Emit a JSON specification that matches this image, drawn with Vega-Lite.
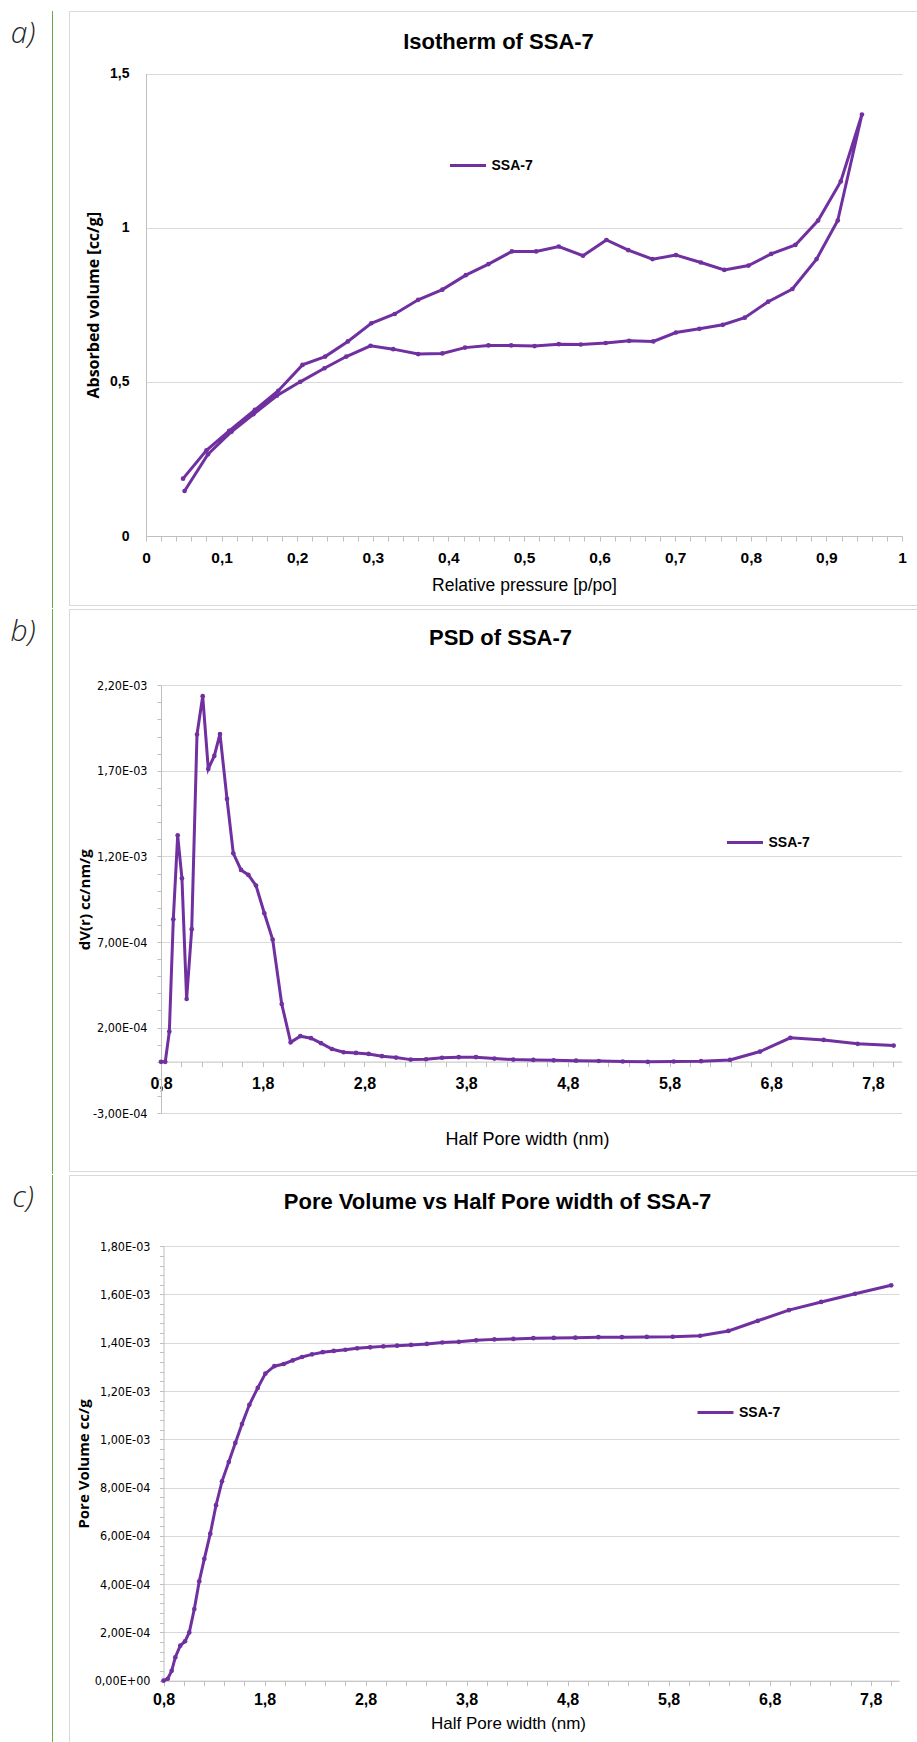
{
  "$schema": "https://vega.github.io/schema/vega-lite/v6.json",
  "padding": {"left": 0, "top": 10, "right": 0, "bottom": 0},
  "background": "white",
  "spacing": 0,
  "resolve": {"scale": {"color": "independent"}, "legend": {"color": "independent"}},
  "config": {
    "view": {"stroke": null},
    "font": "Liberation Sans",
    "axis": {"domainColor": "#bfbfbf", "tickColor": "#bfbfbf", "gridColor": "#d9d9d9", "labelColor": "#000000", "titleColor": "#000000", "domainWidth": 1, "gridWidth": 1, "tickWidth": 1, "labelOverlap": false, "labelFlush": false},
    "legend": {"orient": "none", "title": null, "symbolType": "stroke", "symbolSize": 1296, "symbolStrokeWidth": 3, "labelFont": "Liberation Sans", "labelFontSize": 14, "labelFontWeight": "bold", "labelColor": "#000000", "padding": 0, "labelOffset": 4}
  },
  "datasets": {
    "iso": [
      {"i": 1, "p": 0.051, "v": 0.146}, {"i": 2, "p": 0.082, "v": 0.265}, {"i": 3, "p": 0.113, "v": 0.338}, {"i": 4, "p": 0.142, "v": 0.395},
      {"i": 5, "p": 0.173, "v": 0.455}, {"i": 6, "p": 0.204, "v": 0.5}, {"i": 7, "p": 0.236, "v": 0.544}, {"i": 8, "p": 0.265, "v": 0.582},
      {"i": 9, "p": 0.297, "v": 0.617}, {"i": 10, "p": 0.327, "v": 0.606}, {"i": 11, "p": 0.36, "v": 0.59}, {"i": 12, "p": 0.392, "v": 0.592},
      {"i": 13, "p": 0.422, "v": 0.611}, {"i": 14, "p": 0.453, "v": 0.618}, {"i": 15, "p": 0.483, "v": 0.618}, {"i": 16, "p": 0.514, "v": 0.616},
      {"i": 17, "p": 0.546, "v": 0.622}, {"i": 18, "p": 0.575, "v": 0.621}, {"i": 19, "p": 0.608, "v": 0.626}, {"i": 20, "p": 0.639, "v": 0.633},
      {"i": 21, "p": 0.671, "v": 0.631}, {"i": 22, "p": 0.701, "v": 0.66}, {"i": 23, "p": 0.732, "v": 0.672}, {"i": 24, "p": 0.763, "v": 0.685},
      {"i": 25, "p": 0.792, "v": 0.708}, {"i": 26, "p": 0.823, "v": 0.76}, {"i": 27, "p": 0.855, "v": 0.801}, {"i": 28, "p": 0.887, "v": 0.898},
      {"i": 29, "p": 0.915, "v": 1.023}, {"i": 30, "p": 0.947, "v": 1.367},
      {"i": 31, "p": 0.919, "v": 1.15}, {"i": 32, "p": 0.889, "v": 1.023}, {"i": 33, "p": 0.859, "v": 0.944}, {"i": 34, "p": 0.827, "v": 0.915},
      {"i": 35, "p": 0.797, "v": 0.877}, {"i": 36, "p": 0.765, "v": 0.863}, {"i": 37, "p": 0.734, "v": 0.887}, {"i": 38, "p": 0.701, "v": 0.911},
      {"i": 39, "p": 0.67, "v": 0.898}, {"i": 40, "p": 0.638, "v": 0.927}, {"i": 41, "p": 0.609, "v": 0.96}, {"i": 42, "p": 0.578, "v": 0.909},
      {"i": 43, "p": 0.546, "v": 0.939}, {"i": 44, "p": 0.516, "v": 0.923}, {"i": 45, "p": 0.484, "v": 0.923}, {"i": 46, "p": 0.453, "v": 0.882},
      {"i": 47, "p": 0.423, "v": 0.846}, {"i": 48, "p": 0.392, "v": 0.799}, {"i": 49, "p": 0.36, "v": 0.766}, {"i": 50, "p": 0.329, "v": 0.72},
      {"i": 51, "p": 0.298, "v": 0.69}, {"i": 52, "p": 0.267, "v": 0.631}, {"i": 53, "p": 0.237, "v": 0.582}, {"i": 54, "p": 0.207, "v": 0.555},
      {"i": 55, "p": 0.175, "v": 0.471}, {"i": 56, "p": 0.144, "v": 0.409}, {"i": 57, "p": 0.11, "v": 0.341}, {"i": 58, "p": 0.08, "v": 0.278},
      {"i": 59, "p": 0.049, "v": 0.186}
    ],
    "psd": [
      {"r": 0.8, "d": 0}, {"r": 0.842, "d": 0}, {"r": 0.882, "d": 0.000177}, {"r": 0.921, "d": 0.000833},
      {"r": 0.964, "d": 0.001323}, {"r": 1.006, "d": 0.001072}, {"r": 1.052, "d": 0.000367}, {"r": 1.102, "d": 0.000775},
      {"r": 1.154, "d": 0.001912}, {"r": 1.21, "d": 0.002136}, {"r": 1.265, "d": 0.001711}, {"r": 1.324, "d": 0.001787},
      {"r": 1.38, "d": 0.001915}, {"r": 1.449, "d": 0.001536}, {"r": 1.511, "d": 0.001218}, {"r": 1.587, "d": 0.001121},
      {"r": 1.659, "d": 0.001092}, {"r": 1.734, "d": 0.00103}, {"r": 1.816, "d": 0.000868}, {"r": 1.898, "d": 0.000714},
      {"r": 1.987, "d": 0.000338}, {"r": 2.075, "d": 0.000114}, {"r": 2.17, "d": 0.00015}, {"r": 2.275, "d": 0.000138},
      {"r": 2.373, "d": 0.000109}, {"r": 2.481, "d": 0.000075}, {"r": 2.596, "d": 0.000056}, {"r": 2.717, "d": 0.000052},
      {"r": 2.842, "d": 0.000046}, {"r": 2.973, "d": 0.000033}, {"r": 3.111, "d": 0.000025}, {"r": 3.255, "d": 0.000013},
      {"r": 3.406, "d": 0.000015}, {"r": 3.563, "d": 0.000024}, {"r": 3.727, "d": 0.000027}, {"r": 3.897, "d": 0.000027},
      {"r": 4.078, "d": 0.000019}, {"r": 4.264, "d": 0.000013}, {"r": 4.461, "d": 0.000011}, {"r": 4.661, "d": 0.000009},
      {"r": 4.881, "d": 0.000007}, {"r": 5.104, "d": 0.000005}, {"r": 5.34, "d": 0.000002}, {"r": 5.586, "d": 0},
      {"r": 5.841, "d": 0.000002}, {"r": 6.11, "d": 0.000004}, {"r": 6.395, "d": 0.000011}, {"r": 6.69, "d": 0.00006},
      {"r": 6.988, "d": 0.00014}, {"r": 7.316, "d": 0.000128}, {"r": 7.65, "d": 0.000105}, {"r": 8.004, "d": 0.000095}
    ],
    "pv": [
      {"r": 0.8, "c": 0}, {"r": 0.842, "c": 0.000008}, {"r": 0.881, "c": 0.000041}, {"r": 0.917, "c": 0.000097},
      {"r": 0.966, "c": 0.000145}, {"r": 1.013, "c": 0.000163}, {"r": 1.055, "c": 0.0002}, {"r": 1.105, "c": 0.000297},
      {"r": 1.154, "c": 0.000412}, {"r": 1.204, "c": 0.000505}, {"r": 1.263, "c": 0.000609}, {"r": 1.32, "c": 0.000727},
      {"r": 1.379, "c": 0.000826}, {"r": 1.446, "c": 0.000906}, {"r": 1.511, "c": 0.000985}, {"r": 1.577, "c": 0.001063},
      {"r": 1.65, "c": 0.001143}, {"r": 1.733, "c": 0.001213}, {"r": 1.808, "c": 0.001272}, {"r": 1.897, "c": 0.001303},
      {"r": 1.99, "c": 0.001312}, {"r": 2.079, "c": 0.001327}, {"r": 2.171, "c": 0.001341}, {"r": 2.27, "c": 0.001352},
      {"r": 2.376, "c": 0.001361}, {"r": 2.485, "c": 0.001366}, {"r": 2.6, "c": 0.001371}, {"r": 2.716, "c": 0.001377},
      {"r": 2.845, "c": 0.001381}, {"r": 2.976, "c": 0.001385}, {"r": 3.112, "c": 0.001388}, {"r": 3.25, "c": 0.001391},
      {"r": 3.406, "c": 0.001395}, {"r": 3.56, "c": 0.001401}, {"r": 3.723, "c": 0.001404}, {"r": 3.894, "c": 0.00141},
      {"r": 4.075, "c": 0.001414}, {"r": 4.263, "c": 0.001416}, {"r": 4.461, "c": 0.001419}, {"r": 4.663, "c": 0.00142},
      {"r": 4.877, "c": 0.001421}, {"r": 5.105, "c": 0.001423}, {"r": 5.337, "c": 0.001423}, {"r": 5.584, "c": 0.001424},
      {"r": 5.841, "c": 0.001425}, {"r": 6.112, "c": 0.001429}, {"r": 6.392, "c": 0.001449}, {"r": 6.683, "c": 0.001491},
      {"r": 6.99, "c": 0.001535}, {"r": 7.31, "c": 0.001569}, {"r": 7.646, "c": 0.001603}, {"r": 8.003, "c": 0.001638}
    ]
  },
  "vconcat": [
    {
      "resolve": {"scale": {"color": "independent"}, "legend": {"color": "independent"}},
      "hconcat": [
        {
          "hconcat": [
            {"width": 52, "height": 46, "data": {"values": [{"t": "a)"}]}, "mark": {"type": "text", "font": "Open Sans", "fontSize": 30, "fontStyle": "italic", "fontWeight": 300, "color": "#262626", "dx": -3}, "encoding": {"text": {"field": "t"}}},
            {"width": 1, "height": 597, "data": {"values": [{"t": ""}]}, "mark": {"type": "text"}, "encoding": {"text": {"field": "t"}}, "view": {"fill": "#6aaa45", "stroke": null}}
          ],
          "spacing": 0
        },
        {
          "width": 849, "height": 594,
          "view": {"stroke": "#d9d9d9", "strokeWidth": 1},
          "data": {"name": "iso"},
          "title": {"text": "Isotherm of SSA-7", "font": "Liberation Sans", "fontSize": 22, "fontWeight": "bold", "color": "#000000", "offset": -60, "baseline": "alphabetic", "dx": 5, "anchor": "middle", "frame": "group"},
          "mark": {"type": "line", "strokeWidth": 3, "point": {"filled": true, "size": 22}},
          "encoding": {
            "x": {"field": "p", "type": "quantitative", "scale": {"domain": [0, 1], "range": [77, 833], "nice": false, "zero": false},
              "axis": {"orient": "bottom", "offset": -69, "grid": false, "tickSize": 5,
                "values": [0, 0.02, 0.04, 0.06, 0.08, 0.1, 0.12, 0.14, 0.16, 0.18, 0.2, 0.22, 0.24, 0.26, 0.28, 0.3, 0.32, 0.34, 0.36, 0.38, 0.4, 0.42, 0.44, 0.46, 0.48, 0.5, 0.52, 0.54, 0.56, 0.58, 0.6, 0.62, 0.64, 0.66, 0.68, 0.7, 0.72, 0.74, 0.76, 0.78, 0.8, 0.82, 0.84, 0.86, 0.88, 0.9, 0.92, 0.94, 0.96, 0.98, 1],
                "labelExpr": "abs(datum.value*10 - round(datum.value*10)) < 0.001 ? replace(format(datum.value, '~g'), '.', ',') : ''",
                "labelPadding": 9, "labelFont": "Liberation Sans", "labelFontSize": 15.5, "labelFontWeight": "bold",
                "title": "Relative pressure [p/po]", "titleFont": "Liberation Sans", "titleFontSize": 17.5, "titleFontWeight": "normal", "titlePadding": 11}},
            "y": {"field": "v", "type": "quantitative", "scale": {"domain": [0, 1.5], "range": [525, 62.5], "nice": false, "zero": false},
              "axis": {"orient": "left", "offset": -77, "grid": true, "ticks": false, "values": [0, 0.5, 1, 1.5],
                "labelExpr": "replace(format(datum.value, '~g'), '.', ',')",
                "labelPadding": 17, "labelFont": "Liberation Sans", "labelFontSize": 14, "labelFontWeight": "bold",
                "title": "Absorbed volume [cc/g]", "titleFont": "Open Sans", "titleFontSize": 16, "titleFontWeight": "bold", "titlePadding": 8}},
            "order": {"field": "i", "type": "quantitative"},
            "color": {"datum": "SSA-7", "type": "nominal", "scale": {"range": ["#7030a0"]}, "legend": {"legendX": 379.5, "legendY": 135}}
          }
        }
      ],
      "spacing": 15
    },
    {
      "resolve": {"scale": {"color": "independent"}, "legend": {"color": "independent"}},
      "hconcat": [
        {
          "hconcat": [
            {"width": 52, "height": 46, "data": {"values": [{"t": "b)"}]}, "mark": {"type": "text", "font": "Open Sans", "fontSize": 30, "fontStyle": "italic", "fontWeight": 300, "color": "#262626", "dx": -3}, "encoding": {"text": {"field": "t"}}},
            {"width": 1, "height": 565, "data": {"values": [{"t": ""}]}, "mark": {"type": "text"}, "encoding": {"text": {"field": "t"}}, "view": {"fill": "#6aaa45", "stroke": null}}
          ],
          "spacing": 0
        },
        {
          "width": 849, "height": 562,
          "view": {"stroke": "#d9d9d9", "strokeWidth": 1},
          "data": {"name": "psd"},
          "title": {"text": "PSD of SSA-7", "font": "Liberation Sans", "fontSize": 22, "fontWeight": "bold", "color": "#000000", "offset": -58, "baseline": "alphabetic", "dx": 7, "anchor": "middle", "frame": "group"},
          "mark": {"type": "line", "strokeWidth": 3, "point": {"filled": true, "size": 22}},
          "encoding": {
            "x": {"field": "r", "type": "quantitative", "scale": {"domain": [0.8, 8.08], "range": [92, 832.4], "nice": false, "zero": false},
              "axis": {"orient": "bottom", "offset": -109.4, "grid": false, "tickSize": 5,
                "values": [0.8, 1, 1.2, 1.4, 1.6, 1.8, 2, 2.2, 2.4, 2.6, 2.8, 3, 3.2, 3.4, 3.6, 3.8, 4, 4.2, 4.4, 4.6, 4.8, 5, 5.2, 5.4, 5.6, 5.8, 6, 6.2, 6.4, 6.6, 6.8, 7, 7.2, 7.4, 7.6, 7.8, 8],
                "labelExpr": "abs(datum.value - 0.8 - round(datum.value - 0.8)) < 0.001 ? replace(format(datum.value, '.1f'), '.', ',') : ''",
                "labelPadding": 9, "labelFont": "Liberation Sans", "labelFontSize": 16, "labelFontWeight": "bold",
                "title": "Half Pore width (nm)", "titleFont": "Liberation Sans", "titleFontSize": 18, "titleFontWeight": "normal", "titlePadding": 39, "titleX": 458}},
            "y": {"field": "d", "type": "quantitative", "scale": {"domain": [-0.0003, 0.0022], "range": [504.2, 76.2], "nice": false, "zero": false},
              "axis": {"orient": "left", "offset": -92, "grid": true, "tickSize": 4,
                "values": [-0.0003, -0.0002, -0.0001, 0, 0.0001, 0.0002, 0.0003, 0.0004, 0.0005, 0.0006, 0.0007, 0.0008, 0.0009, 0.001, 0.0011, 0.0012, 0.0013, 0.0014, 0.0015, 0.0016, 0.0017, 0.0018, 0.0019, 0.002, 0.0021, 0.0022],
                "gridOpacity": {"condition": {"test": "abs((datum.value + 0.0003) / 0.0005 - round((datum.value + 0.0003) / 0.0005)) < 0.001", "value": 1}, "value": 0},
                "labelExpr": "abs((datum.value + 0.0003) / 0.0005 - round((datum.value + 0.0003) / 0.0005)) < 0.001 ? (datum.value < 0 ? '-' : '') + replace(replace(replace(format(abs(datum.value), '.2e'), '.', ','), 'e-', 'E-0'), 'e+', 'E+0') : ''",
                "labelPadding": 10, "labelFont": "DejaVu Sans Condensed, Liberation Sans", "labelFontSize": 12.5, "labelFontWeight": "normal",
                "title": "dV(r) cc/nm/g", "titleFont": "Open Sans", "titleFontSize": 15, "titleFontWeight": "bold", "titlePadding": 0}},
            "color": {"datum": "SSA-7", "type": "nominal", "scale": {"range": ["#7030a0"]}, "legend": {"legendX": 656.5, "legendY": 214}}
          }
        }
      ],
      "spacing": 15
    },
    {
      "resolve": {"scale": {"color": "independent"}, "legend": {"color": "independent"}},
      "hconcat": [
        {
          "hconcat": [
            {"width": 52, "height": 46, "data": {"values": [{"t": "c)"}]}, "mark": {"type": "text", "font": "Open Sans", "fontSize": 30, "fontStyle": "italic", "fontWeight": 300, "color": "#262626", "dx": -3}, "encoding": {"text": {"field": "t"}}},
            {"width": 1, "height": 575, "data": {"values": [{"t": ""}]}, "mark": {"type": "text"}, "encoding": {"text": {"field": "t"}}, "view": {"fill": "#6aaa45", "stroke": null}}
          ],
          "spacing": 0
        },
        {
          "width": 849, "height": 575,
          "view": {"stroke": "#d9d9d9", "strokeWidth": 1},
          "data": {"name": "pv"},
          "title": {"text": "Pore Volume vs Half Pore width of SSA-7", "font": "Liberation Sans", "fontSize": 22, "fontWeight": "bold", "color": "#000000", "offset": -56, "baseline": "alphabetic", "dx": 4, "anchor": "middle", "frame": "group"},
          "mark": {"type": "line", "strokeWidth": 3, "point": {"filled": true, "size": 22}},
          "encoding": {
            "x": {"field": "r", "type": "quantitative", "scale": {"domain": [0.8, 8.08], "range": [94.5, 830], "nice": false, "zero": false},
              "axis": {"orient": "bottom", "offset": -69.3, "grid": false, "tickSize": 5,
                "values": [0.8, 1, 1.2, 1.4, 1.6, 1.8, 2, 2.2, 2.4, 2.6, 2.8, 3, 3.2, 3.4, 3.6, 3.8, 4, 4.2, 4.4, 4.6, 4.8, 5, 5.2, 5.4, 5.6, 5.8, 6, 6.2, 6.4, 6.6, 6.8, 7, 7.2, 7.4, 7.6, 7.8, 8],
                "labelExpr": "abs(datum.value - 0.8 - round(datum.value - 0.8)) < 0.001 ? replace(format(datum.value, '.1f'), '.', ',') : ''",
                "labelPadding": 6, "labelFont": "Liberation Sans", "labelFontSize": 16, "labelFontWeight": "bold",
                "title": "Half Pore width (nm)", "titleFont": "Liberation Sans", "titleFontSize": 17, "titleFontWeight": "normal", "titlePadding": 8, "titleX": 439}},
            "y": {"field": "c", "type": "quantitative", "scale": {"domain": [0, 0.0018], "range": [505.7, 71.2], "nice": false, "zero": false},
              "axis": {"orient": "left", "offset": -94.5, "grid": true, "tickSize": 4,
                "values": [0, 0.00004, 0.00008, 0.00012, 0.00016, 0.0002, 0.00024, 0.00028, 0.00032, 0.00036, 0.0004, 0.00044, 0.00048, 0.00052, 0.00056, 0.0006, 0.00064, 0.00068, 0.00072, 0.00076, 0.0008, 0.00084, 0.00088, 0.00092, 0.00096, 0.001, 0.00104, 0.00108, 0.00112, 0.00116, 0.0012, 0.00124, 0.00128, 0.00132, 0.00136, 0.0014, 0.00144, 0.00148, 0.00152, 0.00156, 0.0016, 0.00164, 0.00168, 0.00172, 0.00176, 0.0018],
                "gridOpacity": {"condition": {"test": "abs(datum.value / 0.0002 - round(datum.value / 0.0002)) < 0.001", "value": 1}, "value": 0},
                "labelExpr": "abs(datum.value / 0.0002 - round(datum.value / 0.0002)) < 0.001 ? replace(replace(replace(format(datum.value, '.2e'), '.', ','), 'e-', 'E-0'), 'e+', 'E+0') : ''",
                "labelPadding": 9.5, "labelFont": "DejaVu Sans Condensed, Liberation Sans", "labelFontSize": 12.5, "labelFontWeight": "normal",
                "title": "Pore Volume cc/g", "titleFont": "Open Sans", "titleFontSize": 15, "titleFontWeight": "bold", "titlePadding": 3}},
            "color": {"datum": "SSA-7", "type": "nominal", "scale": {"range": ["#7030a0"]}, "legend": {"legendX": 627, "legendY": 218}}
          }
        }
      ],
      "spacing": 15
    }
  ]
}
